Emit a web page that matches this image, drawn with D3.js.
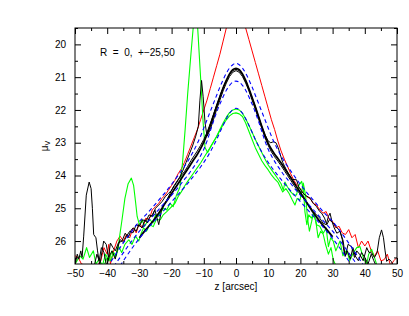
<!DOCTYPE html>
<html>
<head>
<meta charset="utf-8">
<script src="https://cdn.jsdelivr.net/npm/d3@7"></script>
<style>
  body { margin: 0; background: #fff; }
  text { font-family: "Liberation Sans", Arial, sans-serif; fill: #000; }
</style>
</head>
<body>
<div id="chart"></div>
<script>

// ---- data: [z (arcsec), mu_V] ----
var redProfile = [[-50,26.45],[-49,26.5],[-48,26.7],[-46,26.75],[-43,26.75],[-42,26.6],[-41,26.2],[-40,26.4],[-39.5,26.1],[-39,26.7],[-38,26.3],[-37,26.0],[-36,25.85],[-35,26.0],[-34,25.8],[-33,25.9],[-32,25.6],[-31,25.75],[-30,25.45],[-29,25.6],[-28,25.3],[-27,25.35],[-26,25.05],[-25,24.95],[-24,24.85],[-23,24.7],[-22,24.6],[-21,24.45],[-20,24.3],[-19,24.15],[-18,23.95],[-17,23.8],[-16,23.6],[-15,23.35],[-14,23.1],[-13,22.85],[-12,22.6],[-11,22.3],[-10,22.0],[-9,21.7],[-8,21.35],[-7,21.0],[-6,20.65],[-5,20.3],[-4,19.9],[-3,19.5],[-2,19.1],[0,18.5],[2,19.1],[3,19.5],[4,19.85],[5,20.2],[6,20.55],[7,20.9],[8,21.25],[9,21.6],[10,21.95],[11,22.3],[12,22.6],[13,22.95],[14,23.25],[15,23.5],[16,23.72],[17,23.95],[18,24.15],[19,24.3],[20,24.4],[21,24.55],[22,24.65],[23,24.7],[24,24.85],[25,24.9],[26,25.05],[27,25.15],[28,25.1],[29,25.35],[30,25.4],[31,25.6],[32,25.55],[33,25.75],[34,25.8],[35,25.65],[36,25.9],[37,25.8],[38,26.2],[39,26.0],[40,26.15],[41,26.0],[42,26.3],[43,26.45],[44,26.3],[45,26.6],[46,26.57],[47,26.4],[48,26.75],[49,26.6],[50,26.5]];

var blackMain = [[-30,25.9],[-28,25.65],[-26,25.42],[-24,25.15],[-22,24.85],[-20,24.55],[-19,24.4],[-18,24.25],[-17,24.1],[-16,23.95],[-15,23.8],[-14,23.65],[-13,23.5],[-12,23.35],[-11,23.18],[-10,22.98],[-9,22.75],[-8,22.48],[-7,22.18],[-6,21.88],[-5,21.6],[-4,21.33],[-3,21.1],[-2,20.9],[-1,20.77],[0,20.73],[1,20.77],[2,20.9],[3,21.1],[4,21.35],[5,21.62],[6,21.9],[7,22.2],[8,22.5],[9,22.78],[10,23.02],[11,23.2],[12,23.35],[13,23.48],[14,23.62],[15,23.77],[16,23.92],[17,24.07],[18,24.22],[19,24.37],[20,24.52],[22,24.83],[24,25.13],[26,25.4],[28,25.63],[30,25.87]];

var blackA = [[-50,26.75],[-49.3,26.4],[-48.8,26.55],[-48.2,26.3],[-47.8,26.5],[-47.3,25.85],[-46.5,24.6],[-45.6,24.2],[-45,24.4],[-44.6,25.0],[-44.2,25.8],[-43.5,25.9],[-43,26.3],[-42.3,26.75],[-41.6,26.3],[-41.1,26.0],[-40.3,26.1],[-39.6,26.5],[-39,26.06],[-38.2,26.2],[-37.5,26.3],[-36.5,26.05],[-35.4,26.0],[-34.4,25.76],[-33.5,25.9],[-32.5,25.65],[-31.8,25.6],[-31,25.7],[-30.2,25.5],[-29.2,25.6],[-28.3,25.35],[-27.5,25.45],[-27,25.3],[-26,25.2],[-25.2,25.05],[-24.5,25.3],[-24,25.5],[-23.2,25.1],[-22.5,24.9],[-21.5,24.75],[-20.5,24.55],[-19.5,24.35],[-18.5,24.2],[-17.5,24.05],[-16.5,23.85],[-15.5,23.6],[-14.5,23.35],[-13.5,23.1],[-12.5,22.8],[-11.7,22.5],[-11.2,21.7],[-10.7,21.1],[-10.2,21.6],[-9.6,22.4],[-9,22.8],[-8,22.6],[-7,22.3],[-6,21.98],[-5,21.7],[-4,21.42],[-3,21.18],[-2,20.98],[-1,20.85],[0,20.8],[1,20.85],[2,20.98],[3,21.18],[4,21.42],[5,21.7],[6,21.98],[7,22.27],[8,22.56],[9,22.84],[10,23.08],[11,23.28],[12,23.43],[13,23.56],[14,23.7],[15,23.85],[16,24.0],[17,24.15],[18,24.3],[19,24.45],[20,24.58],[21,24.7],[22,24.82],[23,24.95],[24,25.1],[25,25.2],[26,25.3],[27,25.45],[28,25.5],[28.7,25.25],[29.2,25.15],[29.8,25.4],[30.5,25.6],[31.3,25.76],[32.3,25.7],[33,25.95],[33.5,26.3],[34,26.45],[34.8,26.1],[35.9,26.17],[36.8,26.5],[37.5,26.3],[38.5,26.42],[39.5,26.6],[40.6,26.2],[41.3,26.35],[42.1,26.36],[43,26.5],[43.8,26.36],[44.5,25.9],[45.2,25.66],[45.8,25.9],[46.3,26.3],[46.8,26.62],[47.5,26.55],[48.2,26.62],[48.9,26.75]];

var blackB = [[-44,26.75],[-43.2,26.4],[-42.5,26.6],[-41.8,26.2],[-41,26.35],[-40.2,26.75],[-39.3,26.45],[-38.5,26.3],[-37.5,26.55],[-36.7,26.2],[-36,25.95],[-35,26.05],[-34,25.85],[-33,25.7],[-32,25.75],[-31,25.5],[-30,25.55],[-29,25.35],[-28,25.4],[-27,25.2],[-26,25.25],[-25,25.0],[-24,24.9],[-23,24.8],[-22,24.65],[-21,24.55],[-20,24.45],[-19,24.3],[-18,24.15],[-17,24.0],[-16,23.88],[-15,23.72],[-14,23.55],[-13,23.4],[-12,23.25],[-11,23.08],[-10,22.9],[-9,22.68],[-8,22.42],[-7,22.14],[-6,21.86],[-5,21.58],[-4,21.32],[-3,21.1],[-2,20.92],[-1,20.8],[0,20.76],[1,20.8],[2,20.93],[3,21.12],[4,21.36],[5,21.63],[6,21.9],[7,22.2],[8,22.5],[9,22.75],[10,22.95],[10.8,23.0],[11.6,22.97],[12.4,23.0],[13.1,23.15],[13.7,23.35],[14.5,23.6],[15.5,23.8],[16.5,23.98],[17.5,24.12],[18.8,24.13],[19.5,24.35],[20.5,24.5],[21.5,24.6],[23,24.69],[24,24.85],[25,24.95],[26,25.1],[26.6,25.15],[27.5,25.3],[28.2,25.5],[29,25.35],[30.2,25.45],[31,25.55],[32.3,25.7],[33.3,26.0],[33.9,26.47],[34.6,26.3],[35.5,26.55],[36.3,26.2],[37,26.45],[38,26.6],[39,26.35],[40,26.5],[41,26.7],[42,26.4],[42.8,26.6],[43.5,26.75]];

var greenA = [[-41,26.75],[-40,26.5],[-39,26.6],[-38,26.35],[-37.2,26.45],[-36.4,26.17],[-35.5,26.35],[-34.5,26.1],[-33.3,25.96],[-32.3,26.1],[-31.2,25.85],[-30.2,26.0],[-29.4,25.75],[-28.7,25.6],[-27.8,25.7],[-26.8,25.5],[-25.7,25.56],[-24.8,25.35],[-23.5,25.35],[-22.6,25.2],[-21.5,25.1],[-20.5,25.0],[-19.5,24.9],[-18.9,24.84],[-18,24.65],[-17,24.5],[-16,24.33],[-15,24.18],[-14,24.04],[-13,23.9],[-12,23.76],[-11,23.62],[-10,23.46],[-9,23.3],[-8,23.14],[-7,22.97],[-6,22.8],[-5,22.6],[-4,22.4],[-3,22.22],[-2,22.08],[-1,22.0],[0,21.97],[1,22.0],[2,22.1],[3,22.27],[4,22.47],[5,22.68],[6,22.9],[7,23.1],[8,23.3],[9,23.5],[10,23.68],[11,23.82],[12,23.96],[13,24.1],[14,24.25],[14.7,24.45],[15.2,24.2],[16,24.35],[17,24.5],[18,24.6],[18.8,24.59],[19.5,24.3],[20.4,24.18],[21,24.5],[21.4,25.1],[22,25.5],[22.6,25.2],[23.4,25.3],[24.2,25.15],[25,25.5],[26,25.55],[27.1,25.76],[28,25.6],[28.7,26.17],[29.4,25.9],[30.2,26.0],[31,26.3],[32.3,26.0],[33.2,26.45],[34.4,26.27],[35.3,26.6],[36.5,26.35],[37.5,26.2],[38.5,26.17],[39.5,26.5],[40.6,26.7],[41.2,26.4],[42.1,26.25],[43,26.5],[43.8,26.75]];

var greenB = [[-50,26.7],[-49.5,26.62],[-48.5,26.45],[-47.5,26.55],[-46.4,26.2],[-45.5,26.5],[-44.3,26.3],[-43.5,26.7],[-42.5,26.55],[-41.5,26.75],[-40.5,26.4],[-39.5,26.6],[-38.5,26.3],[-37.5,26.5],[-36.5,26.1],[-35.4,25.35],[-34.5,24.7],[-33.5,24.25],[-32.5,24.08],[-31.8,24.3],[-31.2,24.8],[-30.7,25.25],[-30,25.5],[-29.2,25.35],[-28.4,25.55],[-27.5,25.4],[-26.7,25.35],[-25.8,25.45],[-25,25.2],[-24.2,25.25],[-23.6,25.15],[-22.5,25.0],[-21.5,25.05],[-20.5,24.85],[-19.5,24.95],[-18.5,24.6],[-17.4,24.35],[-16.6,23.6],[-15.8,22.6],[-15,21.5],[-14,20.3],[-13.3,19.5],[-12.6,18.9],[-11.9,19.5],[-11,21.0],[-10.2,22.4],[-9.6,23.15],[-8.8,23.3],[-8,23.15],[-7,22.98],[-6,22.82],[-5,22.63],[-4,22.45],[-3,22.3],[-2,22.18],[-1,22.11],[0,22.09],[1,22.12],[2,22.2],[3,22.4],[4,22.65],[5,22.9],[6,23.15],[7,23.35],[8,23.55],[9,23.7],[10,23.83],[11,23.98],[12,24.1],[13,24.2],[13.7,24.34],[14.5,24.5],[15.5,24.4],[16.5,24.55],[17.5,24.75],[18.3,24.9],[19,24.7],[19.9,24.74],[20.9,24.23],[21.6,24.6],[22.2,25.3],[22.8,25.7],[23.5,25.4],[24,25.15],[24.8,25.4],[25.5,25.9],[26.3,25.7],[27.1,25.8],[27.8,26.1],[28.7,26.4],[29.5,26.2],[30.2,26.57],[31,26.75]];

// model fits (dashed)
var modelOuter = [[-40,26.8],[-38,26.5],[-36,26.2],[-34,25.92],[-32,25.65],[-30,25.4],[-28,25.2],[-26,24.98],[-24,24.75],[-22,24.52],[-20,24.27],[-18,24.0],[-16,23.72],[-15,23.57],[-14,23.4],[-13,23.22],[-12,23.02],[-11,22.8],[-10,22.55],[-9,22.3],[-8,22.05],[-7,21.8],[-6,21.55],[-5,21.3],[-4,21.08],[-3,20.88],[-2,20.72],[-1,20.62],[0,20.58],[1,20.62],[2,20.72],[3,20.88],[4,21.08],[5,21.3],[6,21.55],[7,21.8],[8,22.05],[9,22.3],[10,22.55],[11,22.8],[12,23.02],[13,23.22],[14,23.4],[15,23.57],[16,23.72],[18,24.0],[20,24.27],[22,24.52],[24,24.75],[26,24.98],[28,25.2],[30,25.4],[32,25.65],[34,25.92],[36,26.2],[38,26.5],[40,26.8]];

var modelInner = [[-38,26.78],[-36,26.5],[-34,26.22],[-32,25.95],[-30,25.7],[-28,25.48],[-26,25.26],[-24,25.04],[-22,24.82],[-20,24.6],[-18,24.37],[-16,24.12],[-15,24.0],[-14,23.86],[-13,23.72],[-12,23.57],[-11,23.4],[-10,23.2],[-9,22.95],[-8,22.65],[-7,22.35],[-6,22.07],[-5,21.82],[-4,21.6],[-3,21.4],[-2,21.25],[-1,21.15],[0,21.12],[1,21.15],[2,21.25],[3,21.4],[4,21.6],[5,21.82],[6,22.07],[7,22.35],[8,22.65],[9,22.95],[10,23.2],[11,23.4],[12,23.57],[13,23.72],[14,23.86],[15,24.0],[16,24.12],[18,24.37],[20,24.6],[22,24.82],[24,25.04],[26,25.26],[28,25.48],[30,25.7],[32,25.95],[34,26.22],[36,26.5],[38,26.78]];

var modelGreen = [[-36,26.76],[-34,26.46],[-32,26.18],[-30,25.92],[-28,25.68],[-26,25.46],[-24,25.24],[-22,25.02],[-20,24.8],[-18,24.58],[-16,24.36],[-14,24.12],[-13,24.0],[-12,23.87],[-11,23.74],[-10,23.6],[-9,23.45],[-8,23.28],[-7,23.1],[-6,22.9],[-5,22.68],[-4,22.47],[-3,22.27],[-2,22.1],[-1,21.99],[0,21.95],[1,21.99],[2,22.1],[3,22.27],[4,22.47],[5,22.68],[6,22.9],[7,23.1],[8,23.28],[9,23.45],[10,23.6],[11,23.74],[12,23.87],[13,24.0],[14,24.12],[16,24.36],[18,24.58],[20,24.8],[22,25.02],[24,25.24],[26,25.46],[28,25.68],[30,25.92],[32,26.18],[34,26.46],[36,26.76]];

var xMajor = [-50, -40, -30, -20, -10, 0, 10, 20, 30, 40, 50];
var xMinor = [-45, -35, -25, -15, -5, 5, 15, 25, 35, 45];
var yMajor = [20, 21, 22, 23, 24, 25, 26];
var yMinor = [19.5, 20.5, 21.5, 22.5, 23.5, 24.5, 25.5, 26.5];

// ---- layout ----
var margin = { top: 28, right: 12, bottom: 52, left: 75 },
    width = 409 - margin.left - margin.right,
    height = 316 - margin.top - margin.bottom;

var svg = d3.select("#chart")
    .append("svg")
    .attr("width", 409)
    .attr("height", 316)
    .append("g")
    .attr("transform", "translate(" + margin.left + "," + margin.top + ")");

var x = d3.scaleLinear().domain([-50, 50]).range([0, width]);
var y = d3.scaleLinear().domain([19.5, 26.7]).range([0, height]);

// clip the curves to the frame
svg.append("defs").append("clipPath")
    .attr("id", "clip")
    .append("rect")
    .attr("width", width)
    .attr("height", height);

var plot = svg.append("g").attr("clip-path", "url(#clip)");

var line = d3.line()
    .x(function (d) { return x(d[0]); })
    .y(function (d) { return y(d[1]); });

var smooth = d3.line()
    .curve(d3.curveMonotoneX)
    .x(function (d) { return x(d[0]); })
    .y(function (d) { return y(d[1]); });

// solid profiles
var solids = [
    { d: redProfile, color: "#ff0000", w: 1 },
    { d: greenA, color: "#00ff00", w: 1.1 },
    { d: greenB, color: "#00ff00", w: 1.1 },
    { d: blackA, color: "#000", w: 1 },
    { d: blackB, color: "#000", w: 1 }
];
solids.forEach(function (s) {
    plot.append("path")
        .datum(s.d)
        .attr("fill", "none")
        .attr("stroke", s.color)
        .attr("stroke-width", s.w)
        .attr("stroke-linejoin", "round")
        .attr("d", line);
});

plot.append("path")
    .datum(blackMain)
    .attr("fill", "none")
    .attr("stroke", "#000")
    .attr("stroke-width", 1.8)
    .attr("d", smooth);

// dashed models
[modelOuter, modelInner, modelGreen].forEach(function (m) {
    plot.append("path")
        .datum(m)
        .attr("fill", "none")
        .attr("stroke", "#0000ff")
        .attr("stroke-width", 1.1)
        .attr("stroke-dasharray", "4,3")
        .attr("d", smooth);
});

// ---- axes, ticks inward on all four sides ----
function noDomain(g) { g.select(".domain").remove(); }

svg.append("g")
    .attr("transform", "translate(0," + height + ")")
    .call(d3.axisBottom(x).tickValues(xMajor).tickSize(-6).tickPadding(6).tickFormat(d3.format("d")))
    .call(noDomain)
    .call(function (g) { g.selectAll("text").style("font-size", "10px").style("font-family", "Liberation Sans, Arial, sans-serif"); });
svg.append("g")
    .attr("transform", "translate(0," + height + ")")
    .call(d3.axisBottom(x).tickValues(xMinor).tickSize(-3).tickFormat(""))
    .call(noDomain);
svg.append("g")
    .call(d3.axisTop(x).tickValues(xMajor).tickSize(-6).tickFormat(""))
    .call(noDomain);
svg.append("g")
    .call(d3.axisTop(x).tickValues(xMinor).tickSize(-3).tickFormat(""))
    .call(noDomain);

svg.append("g")
    .call(d3.axisLeft(y).tickValues(yMajor).tickSize(-6).tickPadding(9).tickFormat(d3.format("d")))
    .call(noDomain)
    .call(function (g) { g.selectAll("text").style("font-size", "10px").style("font-family", "Liberation Sans, Arial, sans-serif"); });
svg.append("g")
    .call(d3.axisLeft(y).tickValues(yMinor).tickSize(-3).tickFormat(""))
    .call(noDomain);
svg.append("g")
    .attr("transform", "translate(" + width + ",0)")
    .call(d3.axisRight(y).tickValues(yMajor).tickSize(-6).tickFormat(""))
    .call(noDomain);
svg.append("g")
    .attr("transform", "translate(" + width + ",0)")
    .call(d3.axisRight(y).tickValues(yMinor).tickSize(-3).tickFormat(""))
    .call(noDomain);

// frame
svg.append("rect")
    .attr("width", width)
    .attr("height", height)
    .attr("fill", "none")
    .attr("stroke", "#000")
    .attr("stroke-width", 1);

// ---- labels ----
svg.append("text")
    .attr("x", width / 2)
    .attr("y", height + 26)
    .attr("text-anchor", "middle")
    .style("font-size", "10px")
    .text("z [arcsec]");

var yl = svg.append("text")
    .attr("transform", "translate(-27," + (y(23.1)) + ") rotate(-90)")
    .attr("text-anchor", "middle")
    .style("font-size", "10px");
yl.append("tspan").text("\u03bc");
yl.append("tspan").attr("dy", 2).style("font-size", "7px").text("V");

svg.append("text")
    .attr("x", 25)
    .attr("y", 28)
    .style("font-size", "10px")
    .style("white-space", "pre")
    .text("R  =  0,  +\u221225,50");

</script>
</body>
</html>
